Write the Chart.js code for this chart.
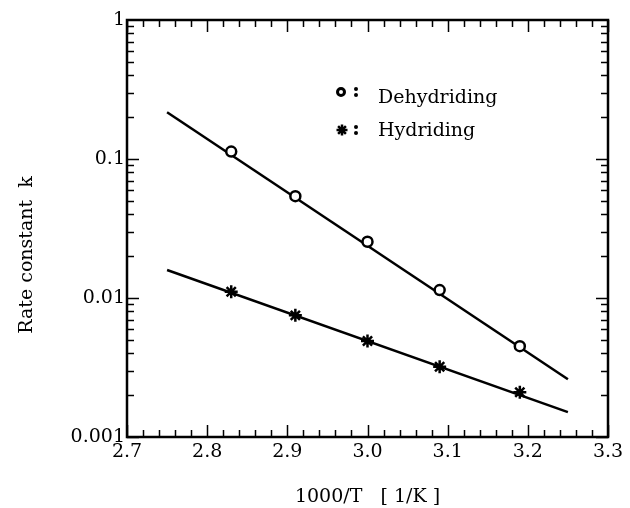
<!DOCTYPE html>
<html>
<head>
<meta charset="utf-8">
<script src="https://cdn.jsdelivr.net/npm/chart.js@4.4.1/dist/chart.umd.min.js"></script>
<style>
    html, body { margin: 0; padding: 0; background: #fff; }
    #wrap { width: 630px; height: 508px; }
</style>
</head>
<body>
<div id="wrap"><canvas id="rateChart" width="630" height="508"></canvas></div>
<script>
// measured points (1000/T vs k)
var invT = [2.83, 2.91, 3.0, 3.09, 3.19];
var kDehyd = [0.113, 0.054, 0.0254, 0.0114, 0.0045];
var kHyd = [0.0111, 0.0075, 0.0049, 0.0032, 0.0021];

// fitted lines, end points
var fitT = [2.75, 3.25];
var fitDehyd = [0.217, 0.0026];
var fitHyd = [0.0159, 0.00151];

var xTicks = [2.7, 2.8, 2.9, 3.0, 3.1, 3.2, 3.3];
var yTicks = [0.001, 0.01, 0.1, 1];
var seriesNames = ['Dehydriding', 'Hydriding'];

var SERIF = "'DejaVu Serif', 'Liberation Serif', serif";

function pts(xs, ys) {
    return xs.map(function(x, i) { return { x: x, y: ys[i] }; });
}

// box, inward ticks on all four sides, y title and legend
var framePlugin = {
    id: 'frame',
    afterDraw: function(chart) {
        var ctx = chart.ctx;
        var a = chart.chartArea;
        var xs = chart.scales.x, ys = chart.scales.y;
        ctx.save();
        ctx.strokeStyle = '#000';
        ctx.lineWidth = 1.5;

        // x ticks, minor every 0.02
        for (var i = 0; i <= 30; i++) {
            var v = 2.7 + i * 0.02;
            var px = Math.round(xs.getPixelForValue(v)) + 0.5;
            var len = (i % 5 === 0) ? 12 : 7;
            ctx.beginPath();
            ctx.moveTo(px, a.bottom); ctx.lineTo(px, a.bottom - len);
            ctx.moveTo(px, a.top); ctx.lineTo(px, a.top + len);
            ctx.stroke();
        }
        // y ticks, log minors 2..9
        for (var e = -3; e < 0; e++) {
            for (var m = 1; m <= 9; m++) {
                var py = Math.round(ys.getPixelForValue(m * Math.pow(10, e))) + 0.5;
                var l2 = (m === 1) ? 12 : 7;
                ctx.beginPath();
                ctx.moveTo(a.left, py); ctx.lineTo(a.left + l2, py);
                ctx.moveTo(a.right, py); ctx.lineTo(a.right - l2, py);
                ctx.stroke();
            }
        }

        ctx.lineWidth = 2.5;
        ctx.strokeRect(a.left, a.top, a.right - a.left, a.bottom - a.top);

        // y axis title
        ctx.fillStyle = '#000';
        ctx.font = '19px ' + SERIF;
        ctx.textAlign = 'center';
        ctx.textBaseline = 'middle';
        ctx.translate(27, 255);
        ctx.rotate(-Math.PI / 2);
        ctx.fillText('Rate constant  k', 0, 0);
        ctx.restore();

        // legend
        ctx.save();
        ctx.strokeStyle = '#000';
        ctx.fillStyle = '#000';
        ctx.lineWidth = 3;
        ctx.beginPath();
        ctx.arc(341, 92, 3.5, 0, Math.PI * 2);
        ctx.stroke();
        ctx.lineWidth = 2.5;
        ctx.beginPath();
        for (var k = 0; k < 4; k++) {
            var ang = k * Math.PI / 4;
            var dx = Math.cos(ang) * 5.5, dy = Math.sin(ang) * 5.5;
            ctx.moveTo(342 - dx, 130 - dy); ctx.lineTo(342 + dx, 130 + dy);
        }
        ctx.stroke();
        [[356, 89], [356, 95], [356, 127], [356, 133]].forEach(function(d) {
            ctx.beginPath();
            ctx.arc(d[0], d[1], 2, 0, Math.PI * 2);
            ctx.fill();
        });
        ctx.font = '19px ' + SERIF;
        ctx.textAlign = 'left';
        ctx.textBaseline = 'alphabetic';
        ctx.fillText(seriesNames[0], 378, 103);
        ctx.fillText(seriesNames[1], 378, 136);
        ctx.restore();
    }
};

var rateChart = new Chart(document.getElementById('rateChart'), {
    type: 'scatter',
    data: {
        datasets: [{
            label: seriesNames[0],
            data: pts(invT, kDehyd),
            pointStyle: 'circle',
            pointRadius: 5,
            borderWidth: 2.5,
            borderColor: '#000',
            backgroundColor: '#fff'
        }, {
            label: seriesNames[1],
            data: pts(invT, kHyd),
            pointStyle: 'star',
            pointRadius: 6.5,
            borderWidth: 2.5,
            borderColor: '#000',
            backgroundColor: '#000'
        }, {
            label: 'fit dehydriding',
            data: pts(fitT, fitDehyd),
            showLine: true,
            pointRadius: 0,
            borderWidth: 2.5,
            borderColor: '#000'
        }, {
            label: 'fit hydriding',
            data: pts(fitT, fitHyd),
            showLine: true,
            pointRadius: 0,
            borderWidth: 2.5,
            borderColor: '#000'
        }]
    },
    options: {
        responsive: false,
        animation: false,
        layout: { padding: { left: 0, right: 22, top: 20, bottom: 0 } },
        plugins: {
            legend: { display: false },
            tooltip: { enabled: false }
        },
        scales: {
            x: {
                type: 'linear',
                min: 2.7,
                max: 3.3,
                grid: { display: false, drawTicks: false },
                border: { display: false },
                afterBuildTicks: function(s) {
                    s.ticks = xTicks.map(function(v) { return { value: v }; });
                },
                afterFit: function(s) { s.height = 71; },
                ticks: {
                    callback: function(v) { return v.toFixed(1); },
                    font: { family: SERIF, size: 19 },
                    color: '#000',
                    padding: 4,
                    maxRotation: 0,
                    autoSkip: false
                },
                title: {
                    display: true,
                    text: '1000/T   [ 1/K ]',
                    font: { family: SERIF, size: 19 },
                    color: '#000',
                    padding: { top: 0, bottom: 0 }
                }
            },
            y: {
                type: 'logarithmic',
                min: 0.001,
                max: 1,
                grid: { display: false, drawTicks: false },
                border: { display: false },
                afterBuildTicks: function(s) {
                    s.ticks = yTicks.map(function(v) { return { value: v }; });
                },
                afterFit: function(s) { s.width = 127; },
                ticks: {
                    callback: function(v) { return String(v); },
                    font: { family: SERIF, size: 19 },
                    color: '#000',
                    padding: 2,
                    autoSkip: false
                }
            }
        }
    },
    plugins: [framePlugin]
});
</script>
</body>
</html>
